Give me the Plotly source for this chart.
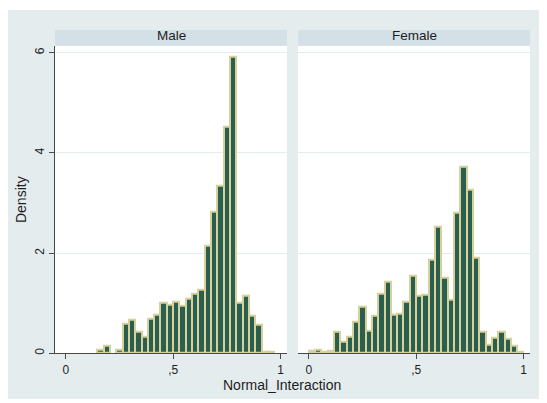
import plotly.graph_objects as go

# ---- data ----
bin_width = 0.0294
male_start = 0.147
male_density = [0.07, 0.15, None, 0.07, 0.58, 0.66, 0.42, 0.33, 0.68, 0.76,
                1.01, 0.96, 1.03, 0.95, 1.08, 1.19, 1.27, 2.14, 2.83, 3.34,
                4.53, 5.93, 1.01, 1.14, 0.74, 0.56, 0.02, 0.02]
female_start = 0.0
female_density = [0.04, 0.07, 0.03, 0.04, 0.42, 0.23, 0.33, 0.63, 0.93, 0.44,
                  0.74, 1.19, 1.43, 0.77, 0.79, 1.03, 1.55, 1.14, 1.17, 1.87,
                  2.52, 1.50, 1.06, 2.81, 3.73, 3.26, 1.90, 0.42, 0.17, 0.30,
                  0.42, 0.28, 0.15, 0.02]
panels = ["Male", "Female"]
x_tickvals = [0, 0.5, 1]
x_ticktext = ["0", ",5", "1"]
y_tickvals = [0, 2, 4, 6]
y_ticktext = ["0", "2", "4", "6"]

# page body margin offsets the figure inside the window
OFFX, OFFY = 8, 5
W, H = 547 - 8, 403 - 8
FILL = "#2a5e4e"
EDGE = "#d6d09a"
BG = "#e4ecee"
STRIP = "#d3e0e6"
FONT = "Liberation Sans, Arial, sans-serif"
TXT = "#1e1e1e"

def centers(start, n):
    return [start + bin_width * (i + 0.5) for i in range(n)]

fig = go.Figure()
fig.add_trace(go.Bar(x=centers(male_start, len(male_density)), y=male_density,
                     width=bin_width, marker=dict(color=FILL, line=dict(color=EDGE, width=2)),
                     xaxis="x", yaxis="y", showlegend=False))
fig.add_trace(go.Bar(x=centers(female_start, len(female_density)), y=female_density,
                     width=bin_width, marker=dict(color=FILL, line=dict(color=EDGE, width=2)),
                     xaxis="x2", yaxis="y2", showlegend=False))

def px(x):
    return (x - OFFX) / W

def py(y):
    return 1 - (y - OFFY) / H

male_dom = [px(55), px(287)]
female_dom = [px(298), px(530)]
ydom = [py(352), py(43)]
xr = [-0.05, 1.03]
yr = [0, 6.14]

xcommon = dict(range=xr, tickvals=x_tickvals, ticktext=x_ticktext, showgrid=False,
               zeroline=False, showline=True, linecolor="#4a4a4a", linewidth=1.3,
               ticks="outside", ticklen=5, tickcolor="#4a4a4a", tickwidth=1.2,
               tickfont=dict(family=FONT, size=12, color=TXT), fixedrange=True)
fig.update_layout(
    width=W, height=H,
    margin=dict(l=0, r=0, t=0, b=0),
    paper_bgcolor="white", plot_bgcolor="white",
    bargap=0,
    xaxis=dict(domain=male_dom, anchor="y", **xcommon),
    xaxis2=dict(domain=female_dom, anchor="y2", **xcommon),
    yaxis=dict(domain=ydom, anchor="x", range=yr, tickvals=y_tickvals, ticktext=y_ticktext,
               tickangle=-90, showgrid=True, gridcolor=BG, gridwidth=1, zeroline=False,
               showline=True, linecolor="#4a4a4a", linewidth=1.3, ticks="outside",
               ticklen=5, tickcolor="#4a4a4a", tickwidth=1.2,
               tickfont=dict(family=FONT, size=12, color=TXT), fixedrange=True),
    yaxis2=dict(domain=ydom, anchor="x2", range=yr, tickvals=y_tickvals,
                showticklabels=False, showgrid=True, gridcolor=BG, gridwidth=1,
                zeroline=False, showline=False, ticks="", fixedrange=True),
)

shapes = [dict(type="rect", xref="paper", yref="paper", x0=0, x1=px(543),
               y0=py(398), y1=py(7), fillcolor=BG, line=dict(width=0), layer="below")]
annotations = []
for name, dom in zip(panels, [male_dom, female_dom]):
    shapes.append(dict(type="rect", xref="paper", yref="paper", x0=dom[0], x1=dom[1],
                       y0=ydom[0], y1=ydom[1], fillcolor="white", line=dict(width=0),
                       layer="below"))
    shapes.append(dict(type="rect", xref="paper", yref="paper", x0=dom[0], x1=dom[1],
                       y0=py(43), y1=py(27), fillcolor=STRIP, line=dict(width=0), layer="below"))
    annotations.append(dict(text=name, xref="paper", yref="paper", x=(dom[0] + dom[1]) / 2,
                            y=py(33), showarrow=False, xanchor="center", yanchor="middle",
                            font=dict(family=FONT, size=13.5, color=TXT)))
annotations.append(dict(text="Normal_Interaction", xref="paper", yref="paper", x=px(282),
                        y=py(384), showarrow=False, xanchor="center", yanchor="middle",
                        font=dict(family=FONT, size=14, color=TXT)))
annotations.append(dict(text="Density", xref="paper", yref="paper", x=px(21),
                        y=py(198), showarrow=False, textangle=-90, xanchor="center",
                        yanchor="middle", font=dict(family=FONT, size=14, color=TXT)))
fig.update_layout(shapes=shapes, annotations=annotations)

fig.write_html("out.html")
